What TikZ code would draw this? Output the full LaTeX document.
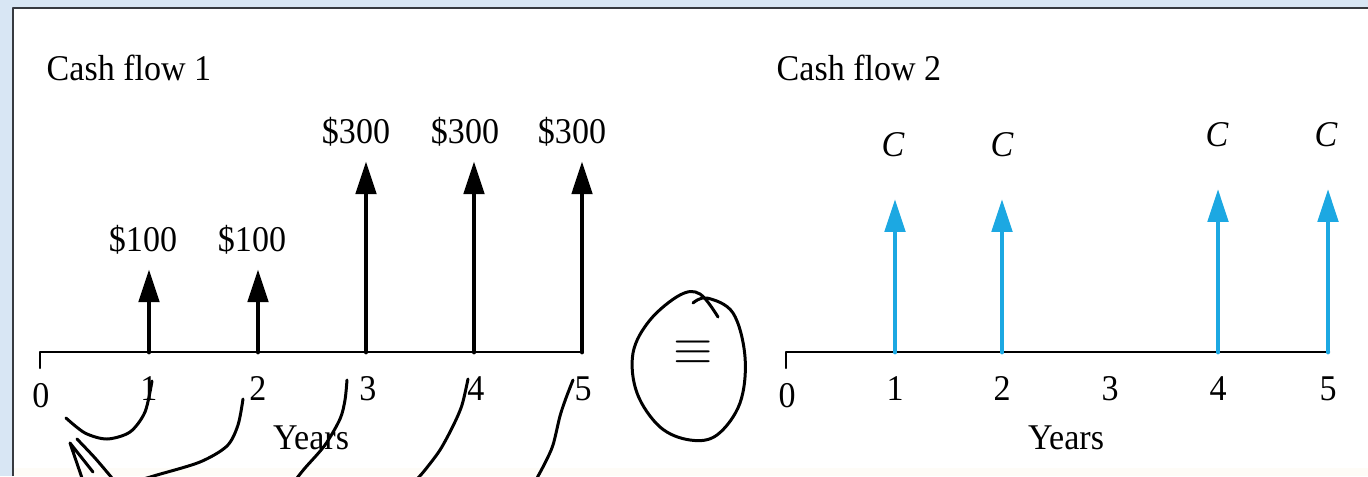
\documentclass[tikz,border=0pt]{standalone}
\usepackage{fontspec}
\setmainfont{Liberation Serif}[FakeStretch=0.94]
\usetikzlibrary{arrows.meta}

\definecolor{flowblue}{RGB}{28,168,226}
\definecolor{screen}{RGB}{216,230,244}
\definecolor{rahmen}{RGB}{55,58,64}
\definecolor{unten}{RGB}{254,252,247}

\tikzset{
	val/.style={inner sep=0pt, font=\fontsize{10.3}{12}\selectfont},
	cfblack/.style={line width=1.4pt, shorten >=0.14cm, -{Triangle[length=0.33cm,width=0.2cm]}},
	cfblue/.style={cfblack, color=flowblue, shorten >=0.41cm},
	zeitachse/.style={line width=0.7pt},
	hand/.style={line width=0.85pt, line cap=round, line join=round}
}

\begin{document}
\begin{tikzpicture}[line cap=round,line join=round,x=0.01cm,y=-0.01cm]
		\useasboundingbox (0,0) rectangle (1368,476);

		% Hintergrund und Rahmen
		\fill[screen] (0,0) rectangle (1368,476);
		\fill[white] (13,8) rectangle (1368,468);
		\fill[unten] (13,468) rectangle (1368,476);
		\draw[rahmen, line width=0.6pt, line cap=butt] (13,476) -- (13,8) -- (1368,8);

		% Cash flow 1
		\node[val, anchor=west] (titel1) at (46,68) {Cash flow 1};
		\coordinate (t0) at (40,352);
		\coordinate (t1) at (149,352);
		\coordinate (t2) at (258,352);
		\coordinate (t3) at (366,352);
		\coordinate (t4) at (474,352);
		\coordinate (t5) at (582,352);
		\draw[zeitachse] (40,368) -- (t0) -- (583,352);
		\node[val] (j0) at (41,396) {0};
		\node[val] (j1) at (149,389) {1};
		\node[val] (j2) at (258,389) {2};
		\node[val] (j3) at (368,389) {3};
		\node[val] (j4) at (476,389) {4};
		\node[val] (j5) at (583,389) {5};
		\node[val] (jahre1) at (311,438) {Years};

		\node[val] (v1) at (143,240) {\$100};
		\node[val] (v2) at (252,240) {\$100};
		\node[val] (v3) at (356,132) {\$300};
		\node[val] (v4) at (465,132) {\$300};
		\node[val] (v5) at (572,132) {\$300};
		\draw[cfblack] (t1) -- (t1 |- v1.south);
		\draw[cfblack] (t2) -- (t2 |- v2.south);
		\draw[cfblack] (t3) -- (t3 |- v3.south);
		\draw[cfblack] (t4) -- (t4 |- v4.south);
		\draw[cfblack] (t5) -- (t5 |- v5.south);

		% Aequivalenz
		\node[inner sep=0pt, font=\fontsize{14}{16}\selectfont] (gleich) at (693,353) {$\equiv$};
		\draw[hand] plot[smooth, tension=0.6] coordinates {(693,303) (707,298) (733,313) (745,357) (740,403) (717,435) (690,440) (660,427) (637,393) (633,353) (650,320) (680,295) (700,294) (718,317)};

		% Cash flow 2
		\node[val, anchor=west] (titel2) at (776,68) {Cash flow 2};
		\coordinate (u0) at (786,352);
		\coordinate (u1) at (895,352);
		\coordinate (u2) at (1002,352);
		\coordinate (u4) at (1218,352);
		\coordinate (u5) at (1328,352);
		\draw[zeitachse] (786,368) -- (u0) -- (1329,352);
		\node[val] (k0) at (787,396) {0};
		\node[val] (k1) at (895,389) {1};
		\node[val] (k2) at (1002,389) {2};
		\node[val] (k3) at (1110,389) {3};
		\node[val] (k4) at (1218,389) {4};
		\node[val] (k5) at (1328,389) {5};
		\node[val] (jahre2) at (1066,438) {Years};

		\node[val] (c1) at (893,145) {\textit{C}};
		\node[val] (c2) at (1002,145) {\textit{C}};
		\node[val] (c4) at (1217,135) {\textit{C}};
		\node[val] (c5) at (1326,135) {\textit{C}};
		\draw[cfblue] (u1) -- (u1 |- c1.south);
		\draw[cfblue] (u2) -- (u2 |- c2.south);
		\draw[cfblue] (u4) -- (u4 |- c4.south);
		\draw[cfblue] (u5) -- (u5 |- c5.south);

		% Handschrift: Abzinsen auf t = 0
		\draw[hand] plot[smooth] coordinates {(66,418) (85,433) (107,439) (130,432) (145,412) (152,381)};
		\draw[hand] plot[smooth] coordinates {(243,399) (238,425) (227,446) (200,462) (157,475) (140,480)};
		\draw[hand] plot[smooth] coordinates {(347,380) (345,400) (340,419) (325,445) (305,468) (297,478)};
		\draw[hand] plot[smooth] coordinates {(468,379) (462,405) (453,426) (440,450) (425,470) (418,478)};
		\draw[hand] plot[smooth] coordinates {(573,380) (566,398) (560,416) (553,445) (545,463) (537,478)};
		\draw[hand] plot[smooth] coordinates {(77,439) (95,458) (112,478)};
		\draw[hand] (82,478) -- (70,443) -- (93,472);
	\end{tikzpicture}
\end{document}
